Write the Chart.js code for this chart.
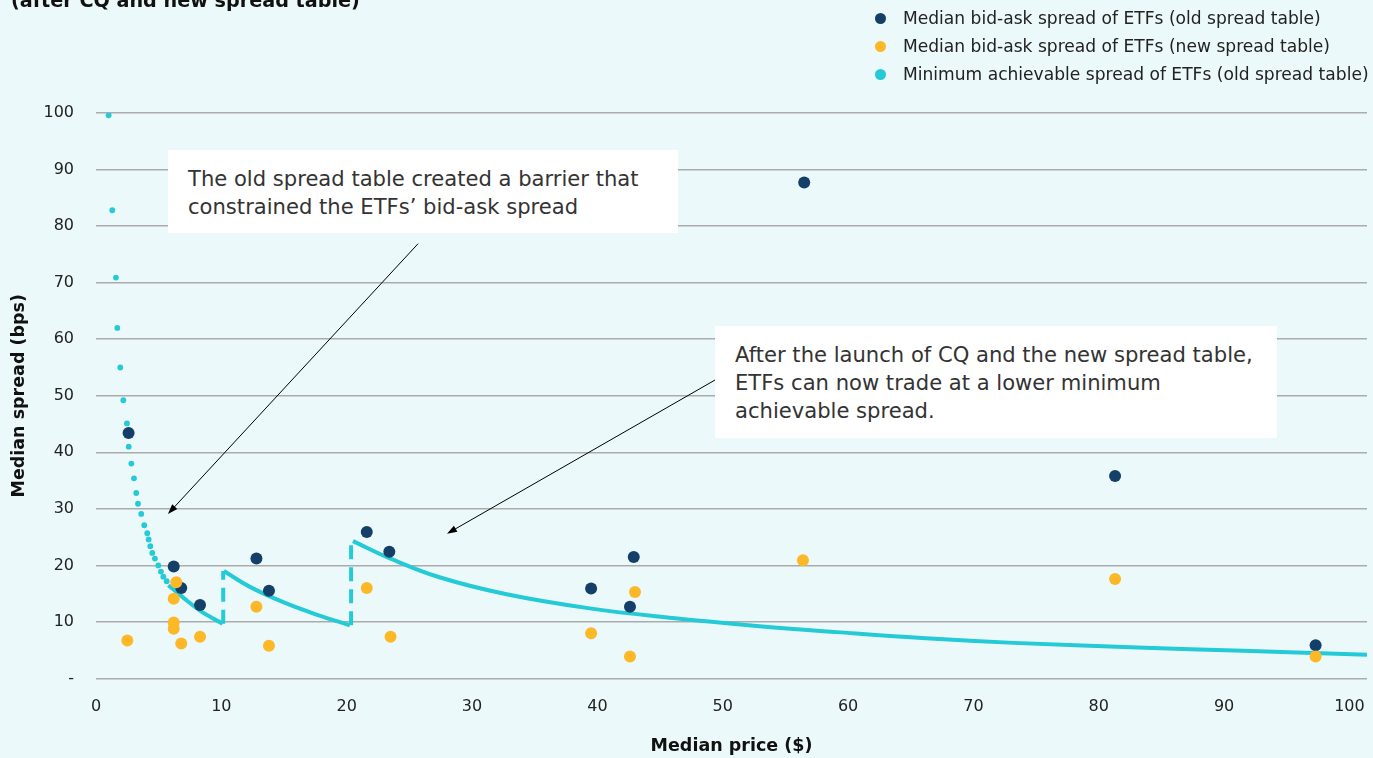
<!DOCTYPE html>
<html>
<head>
<meta charset="utf-8">
<script src="https://cdn.jsdelivr.net/npm/chart.js@4/dist/chart.umd.min.js"></script>
<style>
  html, body { margin: 0; padding: 0; }
  body { width: 1373px; height: 758px; background: #ECF9FA; position: relative; overflow: hidden; font-family: "DejaVu Sans", "Noto Sans", sans-serif; color: #222; }
  #wrap { position: absolute; left: 0; top: 0; width: 1373px; height: 758px; }
  #title { position: absolute; left: 11px; top: -8.7px; font-weight: 700; font-size: 19.2px; line-height: 20px; color: #111; white-space: nowrap; }
  #legend { position: absolute; left: 875px; top: 4px; font-size: 17.1px; line-height: 28px; color: #222; }
  #legend .item { display: flex; align-items: center; white-space: nowrap; }
  #legend .dot { width: 11px; height: 11px; border-radius: 50%; margin-right: 17px; flex: none; }
  .note { position: absolute; background: #fff; box-sizing: border-box; padding: 15px 20px 0 20px; font-size: 21.1px; line-height: 28px; color: #333; white-space: nowrap; }
</style>
</head>
<body>
<div id="wrap"><canvas id="c" width="1373" height="758"></canvas></div>
<div id="title">(after CQ and new spread table)</div>
<div id="legend"></div>
<div class="note" style="left:168px; top:150px; width:510px; height:83px;">The old spread table created a barrier that<br>constrained the ETFs’ bid-ask spread</div>
<div class="note" style="left:715px; top:326px; width:562px; height:112px;">After the launch of CQ and the new spread table,<br>ETFs can now trade at a lower minimum<br>achievable spread.</div>
<script>
// ---- Data ----
const xTicks = [0, 10, 20, 30, 40, 50, 60, 70, 80, 90, 100];
const yTicks = [0, 10, 20, 30, 40, 50, 60, 70, 80, 90, 100];

const oldLabel = 'Median bid-ask spread of ETFs (old spread table)';
const oldX = [2.6, 6.2, 6.8, 8.3, 12.8, 13.8, 21.6, 23.4, 39.5, 42.6, 42.9, 56.5, 81.3, 97.3];
const oldY = [43.4, 19.8, 16.0, 13.0, 21.2, 15.5, 25.9, 22.4, 15.9, 12.7, 21.5, 87.7, 35.8, 5.9];

const newLabel = 'Median bid-ask spread of ETFs (new spread table)';
const newX = [2.5, 6.4, 6.2, 6.2, 6.2, 6.8, 8.3, 12.8, 13.8, 21.6, 23.5, 39.5, 42.6, 43.0, 56.4, 81.3, 97.3];
const newY = [6.7, 17.0, 14.1, 9.9, 8.8, 6.2, 7.4, 12.7, 5.8, 16.0, 7.4, 8.0, 3.9, 15.3, 20.9, 17.6, 3.9];

const minLabel = 'Minimum achievable spread of ETFs (old spread table)';
const minDotX = [1.01, 1.30, 1.59, 1.70, 1.94, 2.18, 2.47, 2.61, 2.82, 3.03, 3.21, 3.35, 3.61, 3.85, 4.09, 4.20, 4.33, 4.49, 4.70, 4.97, 5.18, 5.37, 5.64];
const minDotY = [99.6, 82.8, 70.9, 62.0, 55.0, 49.2, 45.1, 41.0, 38.0, 35.4, 32.8, 30.9, 29.1, 27.1, 25.7, 24.6, 23.4, 22.2, 21.2, 20.0, 18.9, 18.0, 17.2];

const minSeg1X = [5.77, 6.96, 8.29, 9.2, 10.1];
const minSeg1Y = [16.5, 14.3, 12.0, 10.8, 9.7];
const minSeg2X = [10.2, 12.28, 14.94, 17.6, 20.25];
const minSeg2Y = [19.0, 16.2, 13.5, 11.3, 9.4];
const minSeg3X = [20.5, 23.4, 27.4, 32.75, 39.4, 46.0, 52.7, 59.1, 66.2, 73.2, 83.1, 91.5, 101.4];
const minSeg3Y = [24.3, 21.3, 17.9, 14.9, 12.4, 10.7, 9.3, 8.2, 7.1, 6.3, 5.5, 4.9, 4.2];
const jump1X = [10.15, 10.15];
const jump1Y = [9.7, 19.0];
const jump2X = [20.35, 20.35];
const jump2Y = [9.4, 24.3];

// annotation arrows: [fromX, fromY, toX, toY] in data units
const arrow1 = [25.7, 76.9, 5.74, 29.1];
const arrow2 = [49.4, 52.8, 28.0, 25.6];

// ---- Styles ----
const NAVY = '#143F68';
const ORANGE = '#FDB827';
const CYAN = '#24CAD6';
const FONT = '"DejaVu Sans", "Noto Sans", sans-serif';

const pts = (xs, ys) => xs.map((x, i) => ({ x: x, y: ys[i] }));

// legend (HTML)
const legendItems = [[oldLabel, NAVY], [newLabel, ORANGE], [minLabel, CYAN]];
const lg = document.getElementById('legend');
legendItems.forEach(([t, c]) => {
  const d = document.createElement('div'); d.className = 'item';
  const s = document.createElement('span'); s.className = 'dot'; s.style.background = c;
  const tx = document.createElement('span'); tx.textContent = t;
  d.appendChild(s); d.appendChild(tx); lg.appendChild(d);
});

const curve = (xs, ys) => ({
  type: 'line', data: pts(xs, ys), borderColor: CYAN, borderWidth: 4, pointRadius: 0,
  tension: 0.4, fill: false, showLine: true
});
const jump = (xs, ys) => ({
  type: 'line', data: pts(xs, ys), borderColor: CYAN, borderWidth: 4, pointRadius: 0,
  borderDash: [14, 8], fill: false, showLine: true
});

const arrowPlugin = {
  id: 'arrows',
  afterDatasetsDraw(chart) {
    const { ctx, scales: { x, y } } = chart;
    [arrow1, arrow2].forEach(a => {
      const x0 = x.getPixelForValue(a[0]), y0 = y.getPixelForValue(a[1]);
      const x1 = x.getPixelForValue(a[2]), y1 = y.getPixelForValue(a[3]);
      const ang = Math.atan2(y1 - y0, x1 - x0);
      ctx.save();
      ctx.strokeStyle = '#000'; ctx.fillStyle = '#000'; ctx.lineWidth = 1;
      ctx.beginPath(); ctx.moveTo(x0, y0); ctx.lineTo(x1 - 6 * Math.cos(ang), y1 - 6 * Math.sin(ang)); ctx.stroke();
      ctx.beginPath();
      ctx.moveTo(x1, y1);
      ctx.lineTo(x1 - 10 * Math.cos(ang) + 3.5 * Math.sin(ang), y1 - 10 * Math.sin(ang) - 3.5 * Math.cos(ang));
      ctx.lineTo(x1 - 10 * Math.cos(ang) - 3.5 * Math.sin(ang), y1 - 10 * Math.sin(ang) + 3.5 * Math.cos(ang));
      ctx.closePath(); ctx.fill();
      ctx.restore();
    });
  }
};

Chart.defaults.font.family = FONT;
Chart.defaults.color = '#222';

new Chart(document.getElementById('c'), {
  type: 'scatter',
  data: {
    datasets: [
      { label: newLabel, data: pts(newX, newY), backgroundColor: ORANGE, borderWidth: 0, pointRadius: 6 },
      { label: oldLabel, data: pts(oldX, oldY), backgroundColor: NAVY, borderWidth: 0, pointRadius: 6 },
      { label: minLabel, data: pts(minDotX, minDotY), backgroundColor: CYAN, borderWidth: 0, pointRadius: 2.9 },
      curve(minSeg1X, minSeg1Y),
      curve(minSeg2X, minSeg2Y),
      curve(minSeg3X, minSeg3Y),
      jump(jump1X, jump1Y),
      jump(jump2X, jump2Y)
    ]
  },
  options: {
    responsive: false,
    animation: false,
    events: [],
    layout: { padding: { top: 113, right: 5, left: 0, bottom: 0 } },
    plugins: { legend: { display: false }, tooltip: { enabled: false } },
    scales: {
      x: {
        type: 'linear', min: 0, max: 101.4,
        grid: { display: false, drawTicks: false },
        border: { display: false },
        afterBuildTicks: s => { s.ticks = xTicks.map(v => ({ value: v })); },
        afterFit: s => { s.height = 79.5; s.paddingRight = 0; s.paddingLeft = 0; },
        ticks: { font: { size: 16 }, color: '#222', padding: 19, maxRotation: 0, autoSkip: false },
        title: { display: true, text: 'Median price ($)', font: { size: 17.5, weight: 'bold' }, color: '#111', padding: { top: 0, bottom: 1 } }
      },
      y: {
        type: 'linear', min: 0, max: 100,
        grid: { color: '#ABABAB', lineWidth: 1.5, drawTicks: false },
        border: { display: false },
        afterBuildTicks: s => { s.ticks = yTicks.map(v => ({ value: v })); },
        afterFit: s => { s.width = 96; },
        ticks: { font: { size: 16 }, color: '#222', padding: 22, callback: v => v === 0 ? '-' : String(v) },
        title: { display: true, text: 'Median spread (bps)', font: { size: 17.5, weight: 'bold' }, color: '#111', padding: { top: 9, bottom: 0 } }
      }
    }
  },
  plugins: [arrowPlugin]
});
</script>
</body>
</html>
